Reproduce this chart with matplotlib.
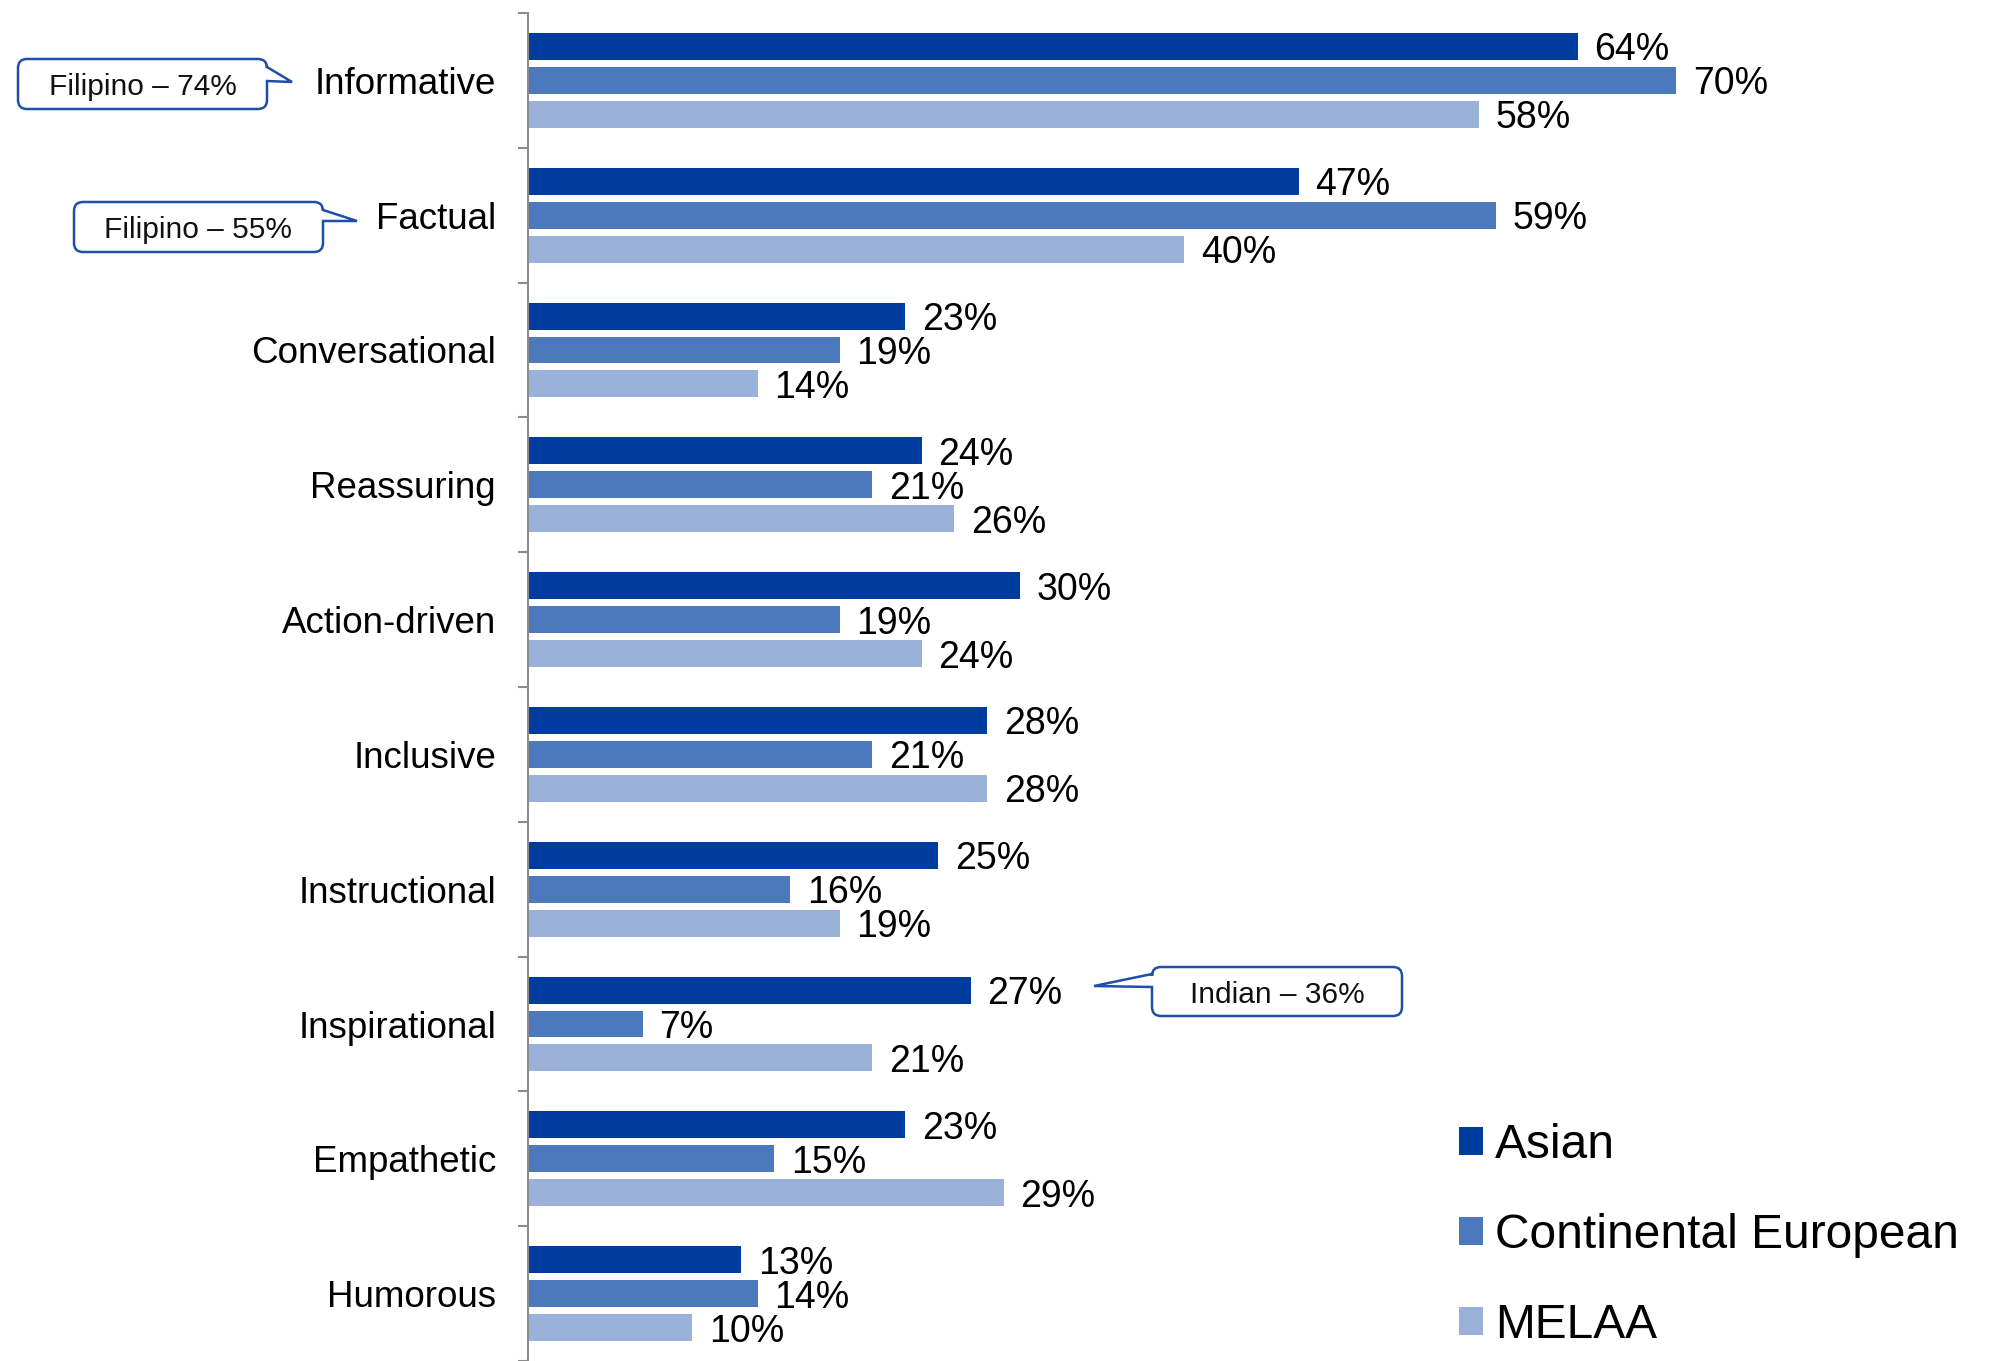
import numpy as np
import matplotlib
matplotlib.use("Agg")
import matplotlib.pyplot as plt
from matplotlib.path import Path
from matplotlib.patches import PathPatch

plt.rcParams['font.family'] = ['Liberation Sans', 'DejaVu Sans']

# survey data: share of each group choosing the tone
tones = ["Informative", "Factual", "Conversational", "Reassuring", "Action-driven",
         "Inclusive", "Instructional", "Inspirational", "Empathetic", "Humorous"]
groups = ["Asian", "Continental European", "MELAA"]
asian = [64, 47, 23, 24, 30, 28, 25, 27, 23, 13]
continental = [70, 59, 19, 21, 19, 21, 16, 7, 15, 14]
melaa = [58, 40, 14, 26, 24, 28, 19, 21, 29, 10]
colors = ["#003C9E", "#4C78BC", "#9AB2D9"]

callout_texts = ["Filipino \u2013 74%", "Filipino \u2013 55%", "Indian \u2013 36%"]

W, H = 1992, 1361
fig = plt.figure(figsize=(W / 100, H / 100), dpi=100)
ax = fig.add_axes([528 / W, 0, 1 - 528 / W, 1 - 13 / H])

y = np.arange(len(tones))
step = 0.252
bh = 0.2
for k, (vals, name) in enumerate(zip([asian, continental, melaa], groups)):
    bars = ax.barh(y + (k - 1) * step, vals, height=bh, color=colors[k], label=name)
    txts = ax.bar_label(bars, labels=[f"{v}%" for v in vals], padding=12, fontsize=27)
    for t in txts:
        t.set_va("center_baseline")

ax.set_xlim(0, (W - 528) / 16.4)
ax.set_ylim(len(tones) - 0.5, -0.5)
ax.set_xticks([])
ax.set_yticks(y)
ax.set_yticklabels(tones, fontsize=26.5)
ax.tick_params(axis='y', which='major', length=0, pad=23)
ax.set_yticks(np.arange(-0.5, len(tones), 1.0), minor=True)
ax.tick_params(axis='y', which='minor', length=7, width=1.5, color="#8C8C8C")
for s in ["top", "right", "bottom"]:
    ax.spines[s].set_visible(False)
ax.spines["left"].set_color("#8C8C8C")
ax.spines["left"].set_linewidth(1.5)

leg = ax.legend(loc="upper left", bbox_to_anchor=(1459 / W, 1 - 1123 / H),
                bbox_transform=fig.transFigure, frameon=False, fontsize=34.5,
                handlelength=0.5, handleheight=0.5, handletextpad=0.25,
                labelspacing=0.94, borderpad=0, borderaxespad=0)

# overlay in pixel units for the speech-bubble notes
ov = fig.add_axes([0, 0, 1, 1], zorder=5)
ov.set_xlim(0, W)
ov.set_ylim(H, 0)
ov.axis("off")


def bubble(x0, y0, x1, y1, side, ya, tip, yb, text, r=9):
    verts, codes = [], []

    def mv(p):
        verts.append(p); codes.append(Path.MOVETO)

    def ln(p):
        verts.append(p); codes.append(Path.LINETO)

    def cv(c, p):
        verts.extend([c, p]); codes.extend([Path.CURVE3, Path.CURVE3])

    mv((x0 + r, y0))
    ln((x1 - r, y0))
    cv((x1, y0), (x1, y0 + r))
    if side == "right":
        ln((x1, ya)); ln(tip); ln((x1, yb))
    ln((x1, y1 - r))
    cv((x1, y1), (x1 - r, y1))
    ln((x0 + r, y1))
    cv((x0, y1), (x0, y1 - r))
    if side == "left":
        ln((x0, yb)); ln(tip); ln((x0, ya))
    ln((x0, y0 + r))
    cv((x0, y0), (x0 + r, y0))
    verts.append((x0 + r, y0)); codes.append(Path.CLOSEPOLY)
    ov.add_patch(PathPatch(Path(verts, codes), facecolor="white",
                           edgecolor="#1F4FA8", linewidth=1.8))
    ov.text((x0 + x1) / 2, (y0 + y1) / 2, text, ha="center", va="center_baseline",
            fontsize=21.5, color="#111111")


bubble(18, 59, 267, 109, "right", 67, (292, 82), 81, callout_texts[0])
bubble(74, 202, 323, 252, "right", 210, (357, 221), 221, callout_texts[1])
bubble(1152, 967, 1402, 1016, "left", 974, (1094, 986), 987, callout_texts[2])

fig.savefig("out.png", dpi=100)
